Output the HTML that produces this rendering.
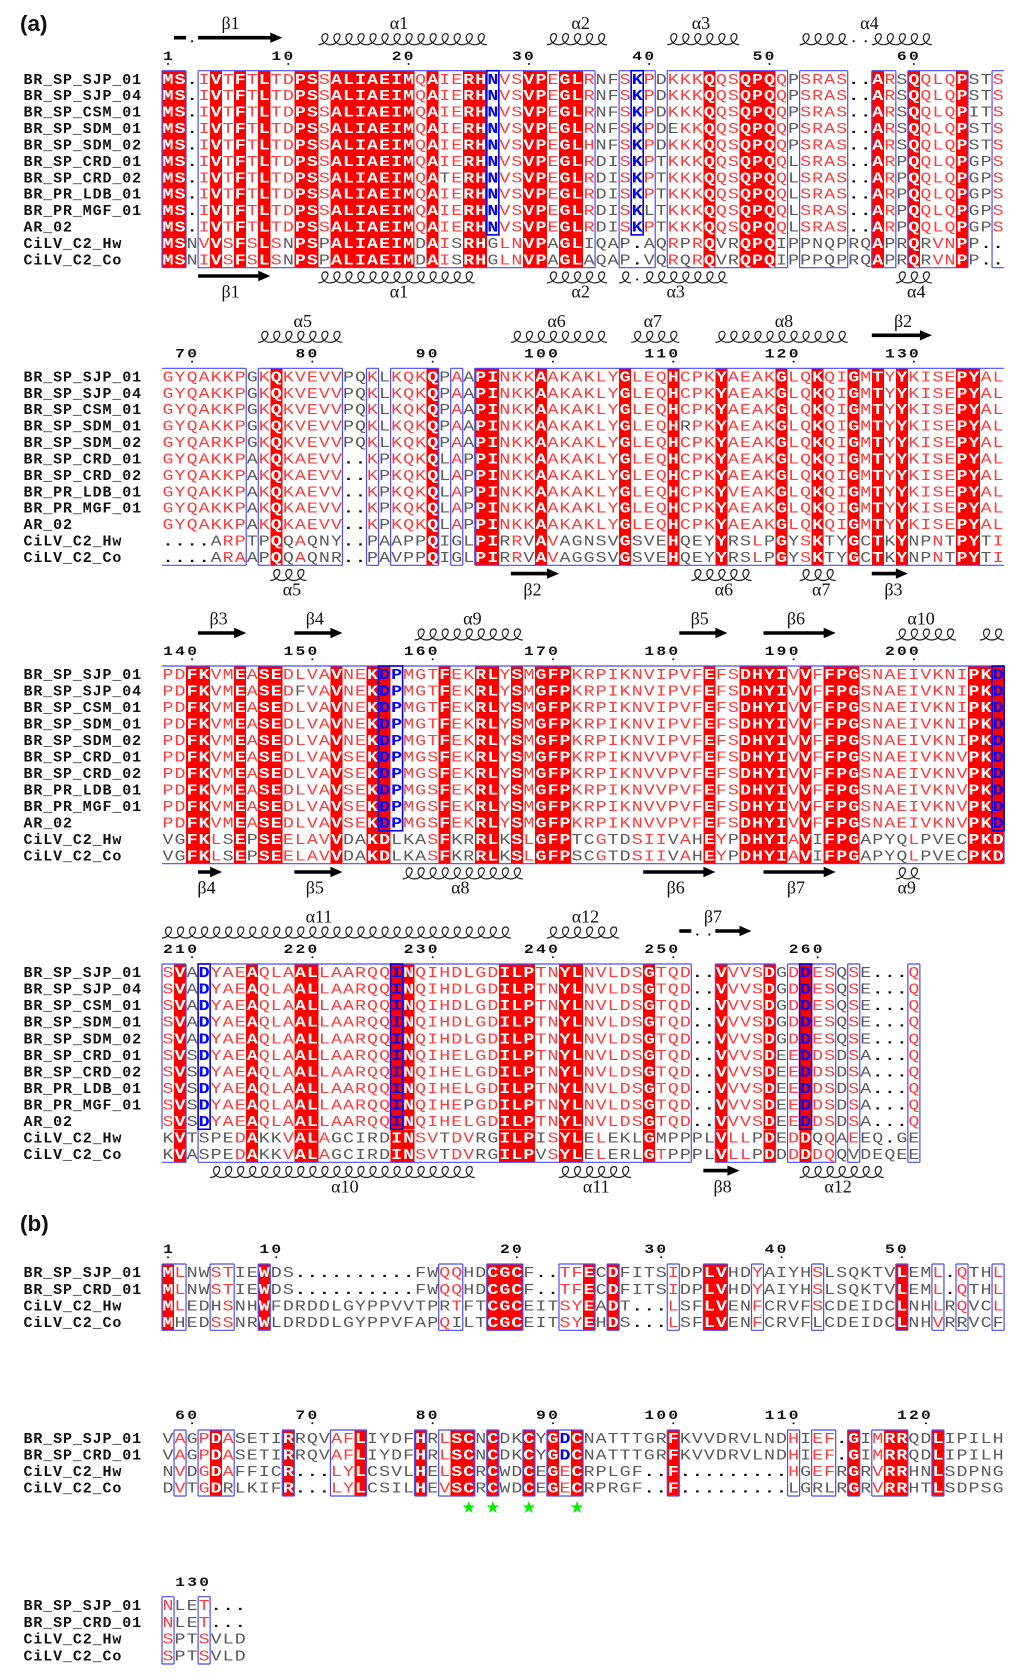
<!DOCTYPE html>
<html lang="en">
<head>
<meta charset="utf-8">
<title>Sequence alignment panels (a) and (b)</title>
<style>
html,body{margin:0;padding:0;background:#fff;}
svg{display:block;}
.res{font-family:"Liberation Mono",monospace;font-size:15px;}
.lab{font-family:"Liberation Mono",monospace;font-size:15px;font-weight:bold;letter-spacing:.87px;fill:#111;}
.num{font-family:"Liberation Mono",monospace;font-size:12.5px;font-weight:bold;fill:#111;}
.ss{font-family:"Liberation Serif",serif;font-size:18px;fill:#111;text-anchor:middle;}
.panel{font-family:"Liberation Sans",sans-serif;font-size:22.5px;font-weight:bold;fill:#111;}
</style>
</head>
<body>
<svg id="fig" xmlns="http://www.w3.org/2000/svg" width="1024" height="1677" viewBox="0 0 1024 1677">
<rect x="0" y="0" width="1024" height="1677" fill="#fff"/>
<text class="panel" x="20" y="31">(a)</text>
<text class="panel" x="20" y="1231">(b)</text>
</svg>
<script>
// ---------- sequence names ----------
const namesA = ["BR_SP_SJP_01","BR_SP_SJP_04","BR_SP_CSM_01","BR_SP_SDM_01","BR_SP_SDM_02","BR_SP_CRD_01","BR_SP_CRD_02","BR_PR_LDB_01","BR_PR_MGF_01","AR_02","CiLV_C2_Hw","CiLV_C2_Co"];
const namesB = ["BR_SP_SJP_01","BR_SP_CRD_01","CiLV_C2_Hw","CiLV_C2_Co"];

// ---------- residues; mask codes: W white on red, r red, g grey, B blue on white, D blue on red ----------
const seqA1 = [
"MS.IVTFTLTDPSSALIAEIMQAIERHNVSVPEGLRNFSKPDKKKQQSQPQQPSRAS..ARSQQLQPSTS",
"MS.IVTFTLTDPSSALIAEIMQAIERHNVSVPEGLRNFSKPDKKKQQSQPQQPSRAS..ARSQQLQPSTS",
"MS.IVTFTLTDPSSALIAEIMQAIERHNVSVPEGLRNFSKPDKKKQQSQPQQPSRAS..ARSQQLQPITS",
"MS.IVTFTLTDPSSALIAEIMQAIERHNVSVPEGLRNFSKPDEKKQQSQPQQPSRAS..ARSQQLQPSTS",
"MS.IVTFTLTDPSSALIAEIMQAIERHNVSVPEGLHNFSKPDKKKQQSQPQQPSRAS..ARSQQLQPSTS",
"MS.IVTFTLTDPSSALIAEIMQAIERHNVSVPEGLRDISKPTKKKQQSQPQQLSRAS..ARPQQLQPGPS",
"MS.IVTFTLTDPSSALIAEIMQATERHNVSVPEGLRDISKPTKKKQQSQPQQLSRAS..ARPQQLQPGPS",
"MS.IVTFTLTDPSSALIAEIMQAIERHNVSVPEGLRDISKPTKKKQQSQPQQLSRAS..ARPQQLQPGPS",
"MS.IVTFTLTDPSSALIAEIMQAIERHNVSVPEGLRDISKLTKKKQQSQPQQLSRAS..ARPQQLQPGPS",
"MS.IVTFTLTDPSSALIAEIMQAIERHNVSVPEGLRDISKPTKKKQQSQPQQLSRAS..ARPQQLQPGPS",
"MSNVVSFSLSNPSPALIAEIMDAISRHGLNVPAGLIQAP.AQRPRQVRQPQIPPNQPRQAPRQRVNPP..",
"MSNIVSFSLSNPSPALIAEIMDAISRHGLNVPAGLAQAP.VQRQRQVRQPQIPPPQPRQAPRQRVNPP.."];
const maskA1a = ["WW.rWrWrWr","rWWrWWWWWW","WrWrrWWBrr","WWrWWrggrB","rgrrrWrrWW","Wrgrrrr..W","rgWrrrWggr"].join("");
const maskA1b = ["WWgrWrWrWr","gWWgWWWWWW","WgWrgWWgrr","WWgWWgggg.","ggrgrWggWW","WggggggggW","ggWgrrWg.."].join("");
const overA1 = [[3,42,"g"],[6,23,"g"],[8,40,"g"]];

const seqA2 = [
"GYQAKKPGKQKVEVVPQKLKQKQPAAPINKKAAKAKLYGLEQHCPKYAEAKGLQKQIGMTYYKISEPYAL",
"GYQAKKPGKQKVEVVPQKLKQKQPAAPINKKAAKAKLYGLEQHCPKYAEAKGLQKQIGMTYYKISEPYAL",
"GYQAKKPGKQKVEVVPQKLKQKQPAAPINKKAAKAKLYGLEQHCPKYAEAKGLQKQIGMTYYKISEPYAL",
"GYQAKKPGKQKVEVVPQKLKQKQPAAPINKKAAKAKLYGLEQHRPKYAEAKGLQKQIGMTYYKISEPYAL",
"GYQARKPGKQKVEVVPQKLKQKQPAAPINKKAAKAKLYGLEQHCPKYAEAKGLQKQIGMTYYKISEPYAL",
"GYQAKKPAKQKAEVV..KPKQKQLAPPINKKAAKAKLYGLEQHCPKYAEAKGLQKQIGMTYYKISEPYAL",
"GYQAKKPAKQKAEVV..KPKQKQLAPPINKKAAKAKLYGLEQHCPKYAEAKGLQKQIGMTYYKISEPYAL",
"GYQAKKPAKQKAEVV..KPKQKQLAPPINKKAAKAKLYGLEQHCPKYVEAKGLQKQIGMTYYKISEPYAL",
"GYQAKKPAKQKAEVV..KPKQKQLAPPINKKAAKAKLYGLEQHCPKYAEAKGLQKQIGMTYYKISEPYAL",
"GYQAKKPAKQKAEVV..KPKQKQLAPPINKKAAKAKLYGLEQHCPKYAEAKGLQKQIGMTYYKISEPYAL",
"....ARPTPQQAQNY..PAAPPQIGLPIRRVAVAGNSVGSVEHQEYYRSLPGYSKTYGCTKYNPNTPYTI",
"....ARAAPQQAQNR..PAVPPQIGLPIRRVAVAGGSVGSVEHQEYYRSLPGYSKTYGCTKYNPNTPYTI"];
const maskA2a = ["rrrrrrrgrW","rrrrrggrgr","rrWgrgWWrr","rWrrrrrrWr","rrWrrrWrrr","rWrrWrrWrW","rWrrrrWWrr"].join("");
const maskA2b = ["....grrggW","grggg..ggg","ggWgggWWgr","gWrgggggWg","ggWgggWggr","gWgrWggWgW","gWggrgWWgr"].join("");
const overA2 = [[3,43,"g"]];

const seqA3 = [
"PDFKVMEASEDLVAVNEKDPMGTFEKRLYSMGFPKRPIKNVIPVFEFSDHYIVVFFPGSNAEIVKNIPKD",
"PDFKVMEASEDFVAVNEKDPMGTFEKRLYSMGFPKRPIKNVIPVFEFSDHYIVVFFPGSNAEIVKNIPKD",
"PDFKVMEASEDLVAVNEKDPMGTFEKRLYSMGFPKRPIKNVIPVFEFSDHYIVVFFPGSNAEIVKNIPKD",
"PDFKVMEASEDLVAVNEKDPMGTFEKRLYSMGFPKRPIKNVIPVFEFSDHYIVVFFPGSNAEIVKNIPKD",
"PDFKVMEASEDLVAVNEKDPMGTFEKRLYSMGFPKRPIKNVIPVFEFSDHYIVVFFPGSNAEIVKNIPKD",
"PDFKVMEASEDLVAVSEKDPMGSFEKRLYSMGFPKRPIKNVVPVFEFSDHYIVVFFPGSNAEIVKNVPKD",
"PDFKVMEASEDLVAVSEKDPMGSFEKRLYSMGFPKRPIKNVVPVFEFSDHYIVVFFPGSNAEIVKNVPKD",
"PDFKVMEASEDLVAVSEKDPMGSFEKRLYSMGFPKRPIKNVVPVFEFSDHYIVVFFPGSNAEIVKNVPKD",
"PDFKVMEASEDLVAVSEKDPMGSFEKRLYSMGFPKRPIKNVVPVFEFSDHYIVVFFPGSNAEIVKNVPKD",
"PDFKVMEASEDLVAVSEKDPMGSFEKRLYSMGFPKRPIKNVVPVFEFSDHYIVVFFPGSNAEIVKNVPKD",
"VGFKLSEPSEELAVVDAKDLKASFKRRLKSLGFPTCGTDSIIVAHEYPDHYIAVIFPGAPYQLPVECPKD",
"VGFKLSEPSEELAVVDAKDLKASFKRRLKSLGFPSCGTDSIIVAHEYPDHYIAVIFPGAPYQLPVECPKD"];
const maskA3a = ["rrWWrrWrWW","rrrrWrrWDB","rrrWrrWWrW","rWWWrrrrrr","rrrrrWrrWW","WWrWrWWWrr","rrrrrrrWWD"].join("");
const maskA3b = ["ggWWrgWgWW","rrrrWggWWg","ggrWggWWgW","rWWWggrggr","rrgrgWrgWW","WWrWgWWWgg","ggrggggWWW"].join("");
const overA3 = [[1,11,"g"]];

const seqA4 = [
"SVADYAEAQLAALLAARQQINQIHDLGDILPTNYLNVLDSGTQD..VVVSDGDDESQSE...Q",
"SVADYAEAQLAALLAARQQINQIHDLGDILPTNYLNVLDSGTQD..VVVSDGDDESQSE...Q",
"SVADYAEAQLAALLAARQQINQIHDLGDILPTNYLNVLDSGTQD..VVVSDGDDESQSE...Q",
"SVADYAEAQLAALLAARQQINQIHDLGDILPTNYLNVLDSGTQD..VVVSDGDDESQSE...Q",
"SVADYAEAQLAALLAARQQINQIHDLGDILPTNYLNVLDSGTQD..VVVSDGDDESQSE...Q",
"SVSDYAEAQLAALLAARQQINQIHELGDILPTNYLNVLDSGTQD..VVVSDEEDDSDSA...Q",
"SVSDYAEAQLAALLAARQQINQIHELGDILPTNYLNVLDSGTQD..VVVSDEEDDSDSA...Q",
"SVSDYAEAQLAALLAARQQINQIHELGDILPTNYLNVLDSGTQD..VVVSDEEDDSDSA...Q",
"SVSDYAEAQLAALLAARQQINQIHEPGDILPTNYLNVLDSGTQD..VVVSDEEDDSDSA...Q",
"SVSDYAEAQLAALLAARQQINQIHELGDILPTNYLNVLDSGTQD..VVVSDEEDDSDSA...Q",
"KVTSPEDAKKVALAGCIRDINSVTDVRGILPISYLELEKLGMPPPLVLLPDEDDQQAEEQ.GE",
"KVASPEDAKKVALAGCIRDINSVTDVRGILPVSYLELERLGTPPPLVLLPDDDDDQQVDEQEE"];
const maskA4a = ["rWgBrrrWrr","rWWrrrrrrD","WrrrrrrrWW","WrrWWrrrrr","Wrrr..Wrrr","WgrDrrgrg.","..r"].join("");
const maskA4b = ["gWggggrWgg","rWWrgggggW","WrrgrrggWW","WgrWWgrggg","WgggggWrrg","WgrWgrgrgg","ggg"].join("");
const overA4 = [[8,25,"g"],[11,54,"r"],[11,57,"g"],[11,41,"r"]];

const seqB1 = [
"MLNWSTIEWDS..........FWQQHDCGCF..TFECDFITSIDPLVHDYAIYHSLSQKTVLEML.QTHL",
"MLNWSTIEWDS..........FWQQHDCGCF..TFECDFITSIDPLVHDYAIYHSLSQKTVLEML.QTHL",
"MLEDHSNHWFDRDDLGYPPVVTPRTFTCGCEITSYEADT...LSFLVENFCRVFSCDEIDCLNHLRQVCL",
"MHEDSSNRWLDRDDLGYPPVFAPQILTCGCEITSYEHDS...LSFLVENFCRVFLCDEIDCLNHVRRVCF"];
const maskB1a = ["WrggrrggWg","g.........",".ggrrggWWW","g..rrWgWgg","ggrggWWggr","ggggrggggg","gWggr.rggr"].join("");
const maskB1c = ["WrgggrggWg","gggggggggg","ggggrggWWW","gggrrWgWg.","..rggWWggr","ggggrggggg","gWggrgrggr"].join("");
const maskB1d = ["WgggrrggWg","gggggggggg","gggrgggWWW","gggrrWgWg.","..rggWWggr","gggggggggg","gWggrggggg"].join("");
const overB1 = [];

const seqB2 = [
"VAGPDASETIRRQVAFLIYDFHRLSCNCDKCYGDCNATTTGRFKVVDRVLNDHIEF.GIMRRQDLIPILH",
"VAGPDASETIRRQVAFLIYDFHRLSCNCDKCYGDCNATTTGRFKVVDRVLNDHIEF.GIMRRQDLIPILH",
"NVDGDAFFICR...LYLCSVLHELSCRCWDCEGECRPLGF..F.........HGEFRGRVRRHNLSDPNG",
"DVTGDRLKIFR...LYLCSILHEVSCRCWDCEGECRPRGF..F.........LGRLRGRVRRHTLSDPSG"];
const maskB2a = ["grgrWrgggg","WgggrrWggg","gWgrWWgWgg","WgWBWggggg","ggWggggggg","ggrgrr.Wgr","WWggWggggg"].join("");
const maskB2c = ["grgrWrgggg","W...rrWggg","gWgrWWgWgg","WgWrWggggg","..W.......","..rgrrgWgr","WWggWggggg"].join("");
const maskB2d = ["grgrWggggg","W...rrWggg","gWgrWWgWgg","WgWrWggggg","..W.......","..gggggWgr","WWggWggggg"].join("");
const overB2 = [];

const seqB3 = ["NLET...","NLET...","SPTSVLD","SPTSVLD"];
const maskB3a = "rggr...";
const maskB3c = "rggrggg";
const overB3 = [];

// ---------- conservation frames: [firstColumn, lastColumn, firstRow, lastRow, omittedSides] ----------
const framesA1 = [[0,1,0,11,""],[3,35,0,11,""],[38,40,0,11,""],[42,51,0,11,""],[53,56,0,11,""],[59,60,0,11,""],[62,66,0,11,""],[69,69,0,11,"R"]];
const framesA2 = [[0,6,0,11,"L"],[8,14,0,11,""],[17,17,0,11,""],[19,22,0,11,""],[24,24,0,11,""],[26,69,0,11,"R"]];
const framesA3 = [[0,69,0,11,"L"]];
const framesA4 = [[0,1,0,11,"L"],[0,0,0,9,"RTB"],[3,43,0,11,""],[46,50,0,11,""],[52,55,0,11,""],[57,57,0,11,""],[62,62,0,11,""]];
const framesB1 = [[0,1,0,3,""],[4,5,0,3,""],[8,8,0,3,""],[23,24,0,3,""],[27,29,0,3,""],[33,35,0,3,""],[37,37,0,3,""],[42,42,0,3,""],[45,46,0,3,""],[49,49,0,3,""],[54,54,0,3,""],[61,61,0,3,""],[64,64,0,3,""],[66,66,0,3,""],[69,69,0,3,""]];
const framesB2 = [[1,1,0,3,""],[3,5,0,3,""],[10,10,0,3,""],[14,16,0,3,""],[21,21,0,3,""],[23,25,0,3,""],[27,27,0,3,""],[30,30,0,3,""],[32,34,0,3,""],[42,42,0,3,""],[52,52,0,3,""],[54,55,0,3,""],[57,57,0,3,""],[59,61,0,3,""],[64,64,0,3,""]];
const framesB3 = [[0,0,0,3,""],[3,3,0,3,""]];
// strict-identity subgroup frames (dark blue)
const strictA1 = [[27,27,0,9],[39,39,0,9]];
const strictA2 = [];
const strictA3 = [[18,19,0,9],[69,69,0,9]];
const strictA4 = [[3,3,0,9],[19,19,0,9],[53,53,0,9]];

// ---------- secondary structure: [kind, fromColumn, toColumn] ----------
const topA1 = [["dash",1,2],["dot",2,2],["arrow",3,10],["coil",13,27],["coil",32,37],["coil",42,48],["coil",53,57],["dot",57,57],["dot",58,58],["coil",59,64]];
const botA1 = [["arrow",3,9],["coil",13,26],["coil",32,37],["coil",38,39],["dot",39,39],["coil",40,47],["coil",61,64]];
const topA2 = [["coil",8,15],["coil",29,37],["coil",39,43],["coil",46,57],["arrow",59,64]];
const botA2 = [["coil",9,12],["arrow",29,33],["coil",44,49],["coil",53,56],["arrow",59,62]];
const topA3 = [["arrow",3,7],["arrow",11,15],["coil",21,30],["arrow",43,47],["arrow",50,56],["coil",61,66],["coil",68,70]];
const botA3 = [["arrow",3,5],["arrow",11,15],["coil",20,30],["arrow",40,46],["arrow",50,56],["coil",61,63]];
const topA4 = [["coil",0,29],["coil",32,38],["dash",43,44],["dot",44,44],["dot",45,45],["arrow",46,49]];
const botA4 = [["coil",4,26],["coil",33,39],["arrow",45,48],["coil",53,60]];
// structure labels: [name, column]
const topLabelsA1 = [["β1",5.7],["α1",19.7],["α2",34.8],["α3",44.8],["α4",58.8]];
const botLabelsA1 = [["β1",5.7],["α1",19.7],["α2",34.8],["α3",42.7],["α4",62.7]];
const topLabelsA2 = [["α5",11.7],["α6",32.8],["α7",40.8],["α8",51.7],["β2",61.6]];
const botLabelsA2 = [["α5",10.8],["β2",30.8],["α6",46.7],["α7",54.8],["β3",60.8]];
const topLabelsA3 = [["β3",4.7],["β4",12.7],["α9",25.8],["β5",44.7],["β6",52.7],["α10",63.1]];
const botLabelsA3 = [["β4",3.7],["β5",12.7],["α8",24.8],["β6",42.7],["β7",52.7],["α9",61.9]];
const topLabelsA4 = [["α11",13.05],["α12",35.2],["β7",45.8]];
const botLabelsA4 = [["α10",15.2],["α11",36.1],["β8",46.6],["α12",56.2]];

// first residue number of each alignment block
const firstResidues = [1,68,138,208,1,58,127];
// cysteine columns flagged by stars in block b2
const starColumns = [25,27,30,34];

const blocks = [
 {id:"a1",top:70.7,bottom:267.7,names:namesA,seqs:seqA1,masks:[maskA1a,maskA1a,maskA1a,maskA1a,maskA1a,maskA1a,maskA1a,maskA1a,maskA1a,maskA1a,maskA1b,maskA1b],over:overA1,frames:framesA1,strict:strictA1,topSS:topA1,botSS:botA1,topLab:topLabelsA1,botLab:botLabelsA1},
 {id:"a2",top:368.3,bottom:565.3,names:namesA,seqs:seqA2,masks:[maskA2a,maskA2a,maskA2a,maskA2a,maskA2a,maskA2a,maskA2a,maskA2a,maskA2a,maskA2a,maskA2b,maskA2b],over:overA2,frames:framesA2,strict:strictA2,topSS:topA2,botSS:botA2,topLab:topLabelsA2,botLab:botLabelsA2},
 {id:"a3",top:666,bottom:863.7,names:namesA,seqs:seqA3,masks:[maskA3a,maskA3a,maskA3a,maskA3a,maskA3a,maskA3a,maskA3a,maskA3a,maskA3a,maskA3a,maskA3b,maskA3b],over:overA3,frames:framesA3,strict:strictA3,topSS:topA3,botSS:botA3,topLab:topLabelsA3,botLab:botLabelsA3},
 {id:"a4",top:964,bottom:1162.3,names:namesA,seqs:seqA4,masks:[maskA4a,maskA4a,maskA4a,maskA4a,maskA4a,maskA4a,maskA4a,maskA4a,maskA4a,maskA4a,maskA4b,maskA4b],over:overA4,frames:framesA4,strict:strictA4,topSS:topA4,botSS:botA4,topLab:topLabelsA4,botLab:botLabelsA4},
 {id:"b1",top:1264,bottom:1330.3,names:namesB,seqs:seqB1,masks:[maskB1a,maskB1a,maskB1c,maskB1d],over:overB1,frames:framesB1,strict:[],topSS:[],botSS:[],topLab:[],botLab:[]},
 {id:"b2",top:1430,bottom:1496,names:namesB,seqs:seqB2,masks:[maskB2a,maskB2a,maskB2c,maskB2d],over:overB2,frames:framesB2,strict:[],topSS:[],botSS:[],topLab:[],botLab:[]},
 {id:"b3",top:1596.7,bottom:1664,names:namesB,seqs:seqB3,masks:[maskB3a,maskB3a,maskB3c,maskB3c],over:overB3,frames:framesB3,strict:[],topSS:[],botSS:[],topLab:[],botLab:[]}
];

const NS = "http://www.w3.org/2000/svg";
const svg = document.getElementById("fig");
const COLW = 12.03, X0 = 162;
function colX(c){ return X0 + COLW * c; }
function colMid(c){ return X0 + COLW * (c + 0.5); }
function mk(tag, parent){ const e = document.createElementNS(NS, tag); parent.appendChild(e); return e; }

function drawBlock(b, bi){
  const g = mk("g", svg);
  
  
  const nRows = b.seqs.length;
  const rowH = (b.bottom - b.top) / nRows;
  const rowY = r => b.top + r * rowH;

  // red fills
  for (let r = 0; r < nRows; r++) {
    const s = b.seqs[r];
    const m = b.masks[r].split("");
    b.over.forEach(o => { if (o[0] === r) m[o[1]] = o[2]; });
    b["m" + r] = m;
    for (let c = 0; c < s.length; c++) {
      if (m[c] === "W" || m[c] === "D") {
        const el = mk("rect", g);
        
        
        el.setAttribute("x", colX(c).toFixed(2));
        el.setAttribute("y", rowY(r).toFixed(2));
        el.setAttribute("width", COLW.toFixed(2));
        el.setAttribute("height", rowH.toFixed(2));
        el.setAttribute("fill", "#ff0000");
        el.setAttribute("shape-rendering", "crispEdges");
      }
    }
  }

  // frames
  b.frames.forEach(f => {
    const x1 = colX(f[0]), x2 = colX(f[1] + 1), y1 = rowY(f[2]), y2 = rowY(f[3] + 1);
    const om = f[4];
    let d = "";
    if (!om.includes("T")) d += `M${x1} ${y1}H${x2}`;
    if (!om.includes("B")) d += `M${x1} ${y2}H${x2}`;
    if (!om.includes("L")) d += `M${x1} ${y1}V${y2}`;
    if (!om.includes("R")) d += `M${x2} ${y1}V${y2}`;
    const el = mk("path", g);
    
    
    el.setAttribute("d", d);
    el.setAttribute("fill", "none");
    el.setAttribute("stroke", "#4a4aff");
    el.setAttribute("stroke-width", "1.2");
  });
  b.strict.forEach(f => {
    const el = mk("rect", g);
    
    
    el.setAttribute("x", colX(f[0]));
    el.setAttribute("y", rowY(f[2]));
    el.setAttribute("width", COLW * (f[1] - f[0] + 1));
    el.setAttribute("height", rowH * (f[3] - f[2] + 1));
    el.setAttribute("fill", "none");
    el.setAttribute("stroke", "#0000e6");
    el.setAttribute("stroke-width", "1.6");
  });

  // residues and names
  for (let r = 0; r < nRows; r++) {
    const base = rowY(r) + rowH / 2 + 4.9;
    const nm = mk("text", g);
    
    
    nm.setAttribute("class", "lab");
    nm.setAttribute("x", "23.5");
    nm.setAttribute("y", base.toFixed(2));
    nm.textContent = b.names[r];
    const s = b.seqs[r];
    const m = b["m" + r];
    for (let c = 0; c < s.length; c++) {
      const t = mk("text", g);
      
      
      t.setAttribute("class", "res");
      t.setAttribute("text-anchor", "middle");
      t.setAttribute("transform", `translate(${colMid(c).toFixed(2)} ${base.toFixed(2)}) scale(1.22 1)`);
      let fill = "#ff3b3b", w = "normal";
      const k = s[c] === "." ? "." : m[c];
      if (k === "W") { fill = "#fff"; w = "bold"; }
      else if (k === "g") { fill = "#5a5a5a"; }
      else if (k === "B" || k === "D") { fill = "#0000ff"; w = "bold"; }
      else if (k === ".") { fill = "#111"; w = "bold"; }
      t.setAttribute("fill", fill);
      t.setAttribute("font-weight", w);
      t.textContent = s[c];
    }
  }

  // numbering
  const first = b.seqs[0];
  let n = firstResidues[bi];
  for (let c = 0; c < first.length; c++) {
    if (first[c] === ".") continue;
    if (n === 1 || n % 10 === 0) {
      const dot = mk("circle", g);
      
      
      dot.setAttribute("cx", colMid(c).toFixed(2));
      dot.setAttribute("cy", (b.top - 6.7).toFixed(2));
      dot.setAttribute("r", "1");
      dot.setAttribute("fill", "#111");
      const digits = String(n);
      for (let i = 0; i < digits.length; i++) {
        const cc = c - (digits.length - 1 - i);
        const t = mk("text", g);
        
        
        t.setAttribute("class", "num");
        t.setAttribute("text-anchor", "middle");
        t.setAttribute("transform", `translate(${colMid(cc).toFixed(2)} ${(b.top - 10.9).toFixed(2)}) scale(1.3 1)`);
        t.textContent = digits[i];
      }
    }
    n++;
  }

  // secondary structure
  drawSS(g, b.topSS, b.topLab, b.top - 33, b.top - 26, b.top - 41.5);
  drawSS(g, b.botSS, b.botLab, b.bottom + 8.3, b.bottom + 15.2, b.bottom + 30);
}

function drawSS(g, items, labels, arrowY, coilY, labelY){
  items.forEach(it => {
    const kind = it[0], x1 = colX(it[1]), x2 = colX(it[2]);
    if (kind === "arrow") {
      const hx = x2 - 12;
      const el = mk("path", g);
      
      
      el.setAttribute("d", `M${x1} ${arrowY - 1.8}H${hx}V${arrowY - 5.2}L${x2} ${arrowY}L${hx} ${arrowY + 5.2}V${arrowY + 1.8}H${x1}Z`);
      el.setAttribute("fill", "#000");
    } else if (kind === "dash") {
      const el = mk("rect", g);
      
      
      el.setAttribute("x", x1);
      el.setAttribute("y", arrowY - 1.8);
      el.setAttribute("width", x2 - x1);
      el.setAttribute("height", 3.6);
      el.setAttribute("fill", "#000");
    } else if (kind === "dot") {
      const el = mk("circle", g);
      
      
      el.setAttribute("cx", colMid(it[1]).toFixed(2));
      el.setAttribute("cy", arrowY + 3.5);
      el.setAttribute("r", "1.1");
      el.setAttribute("fill", "#111");
    } else if (kind === "coil") {
      const count = Math.round(it[2] - it[1]);
      let d = `M${x1.toFixed(2)} ${coilY}`;
      for (let i = 0; i < count; i++) {
        const x = x1 + i * COLW;
        d += `C${(x + 8.5).toFixed(2)} ${coilY} ${(x + 12.5).toFixed(2)} ${coilY - 11} ${(x + 7).toFixed(2)} ${coilY - 11}`;
        d += `C${(x + 1.5).toFixed(2)} ${coilY - 11} ${(x + 2).toFixed(2)} ${coilY} ${(x + COLW).toFixed(2)} ${coilY}`;
      }
      const el = mk("path", g);
      
      
      el.setAttribute("d", d);
      el.setAttribute("fill", "none");
      el.setAttribute("stroke", "#222");
      el.setAttribute("stroke-width", "1.2");
    }
  });
  labels.forEach(l => {
    const t = mk("text", g);
    
    
    t.setAttribute("class", "ss");
    t.setAttribute("x", colX(l[1]).toFixed(2));
    t.setAttribute("y", labelY.toFixed(2));
    t.textContent = l[0];
  });
}

blocks.forEach(drawBlock);

// stars under block b2
starColumns.forEach(c => {
  const cx = colMid(c), cy = 1507.5, R = 6.6, r = 2.6;
  const pts = [];
  for (let i = 0; i < 10; i++) {
    const a = -Math.PI / 2 + i * Math.PI / 5, q = i % 2 ? r : R;
    pts.push((cx + q * Math.cos(a)).toFixed(2) + "," + (cy + q * Math.sin(a)).toFixed(2));
  }
  const el = mk("polygon", svg);
  
  
  el.setAttribute("points", pts.join(" "));
  el.setAttribute("fill", "#00f000");
});
</script>
</body>
</html>
